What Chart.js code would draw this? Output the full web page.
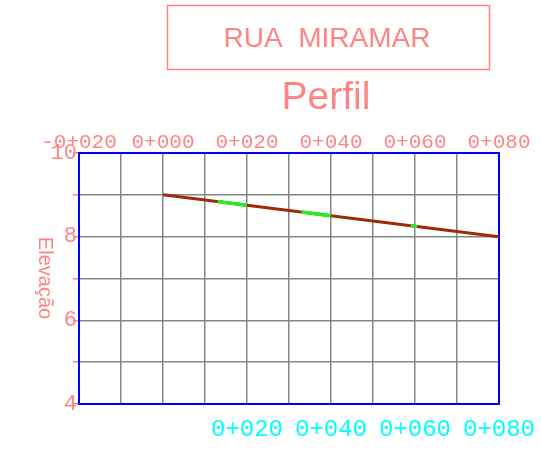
<!DOCTYPE html>
<html>
<head>
<meta charset="utf-8">
<script src="https://cdn.jsdelivr.net/npm/chart.js@4/dist/chart.umd.min.js"></script>
<style>
  body { margin: 0; background: #fff; }
</style>
</head>
<body>
<canvas id="perfil" width="541" height="450"></canvas>
<script>
// Data for the profile
const estacas = [0, 80];          // station (m)
const cotas = [9, 8];             // elevation
// short green pieces along the profile
const verde1X = [13, 20];
const verde1Y = [8.84, 8.75];
const verde2X = [33, 40];
const verde2Y = [8.59, 8.5];
const verde3X = [59, 60.5];
const verde3Y = [8.26, 8.24];
const topoTicks = [-20, 0, 20, 40, 60, 80];
const baseTicks = [20, 40, 60, 80];
const cotaLabels = [4, 6, 8, 10];

const salmao = '#ff8585';
const ciano = '#00ffff';
const cinza = '#858585';
const monoFont = '"Liberation Mono", "DejaVu Sans Mono", monospace';

function estaca(v) {
  return (v < 0 ? '-' : '') + '0+' + String(Math.abs(v)).padStart(3, '0');
}

function pontos(xs, ys) {
  return xs.map((x, i) => ({ x: x, y: ys[i] }));
}

function trechoVerde(xs, ys) {
  return {
    label: 'Trecho',
    data: pontos(xs, ys),
    borderColor: '#22ee22',
    borderWidth: 3.5,
    pointRadius: 0,
    tension: 0
  };
}

// Title box, "Perfil" text, blue frame and the y title
const desenho = {
  id: 'desenho',
  beforeDatasetsDraw(chart) {
    const ctx = chart.ctx;
    const a = chart.chartArea;
    ctx.save();
    ctx.strokeStyle = '#0000ff';
    ctx.lineWidth = 2;
    ctx.strokeRect(a.left, a.top, a.right - a.left, a.bottom - a.top);
    ctx.restore();
  },
  afterDraw(chart) {
    const ctx = chart.ctx;
    ctx.save();
    ctx.strokeStyle = salmao;
    ctx.lineWidth = 1.5;
    ctx.strokeRect(167.5, 5.5, 322, 64);
    ctx.fillStyle = salmao;
    ctx.textAlign = 'center';
    ctx.textBaseline = 'alphabetic';
    ctx.font = '28px "Liberation Sans", Arial, sans-serif';
    ctx.fillText('RUA  MIRAMAR', 327, 47);
    ctx.font = '39px "Liberation Sans", Arial, sans-serif';
    ctx.fillText('Perfil', 326, 109);
    // y title, reading top to bottom
    ctx.translate(45, 278);
    ctx.rotate(Math.PI / 2);
    ctx.font = '20px "Liberation Sans", Arial, sans-serif';
    ctx.textBaseline = 'middle';
    ctx.fillText('Elevação', 0, 0);
    ctx.restore();
  }
};

window.onload = function () {
  const ctx = document.getElementById('perfil').getContext('2d');

  new Chart(ctx, {
    type: 'line',
    data: {
      datasets: [
        trechoVerde(verde1X, verde1Y),
        trechoVerde(verde2X, verde2Y),
        trechoVerde(verde3X, verde3Y),
        {
          label: 'Terreno',
          data: pontos(estacas, cotas),
          borderColor: '#a02a08',
          borderWidth: 3,
          pointRadius: 0,
          tension: 0,
          order: 1
        }
      ]
    },
    options: {
      responsive: false,
      animation: false,
      layout: { padding: { left: 0, right: 42, top: 0, bottom: 0 } },
      plugins: {
        legend: { display: false },
        tooltip: { enabled: false }
      },
      scales: {
        x: {
          type: 'linear',
          position: 'bottom',
          min: -20,
          max: 80,
          afterFit(s) { s.height = 46; s.paddingLeft = 0; s.paddingRight = 0; },
          border: { display: false },
          grid: { color: cinza, lineWidth: 1.5, drawTicks: false },
          ticks: {
            stepSize: 10,
            autoSkip: false,
            maxRotation: 0,
            padding: 11,
            color: ciano,
            font: { family: monoFont, size: 24 },
            callback: v => (baseTicks.includes(v) ? estaca(v) : '')
          }
        },
        xTopo: {
          type: 'linear',
          position: 'top',
          min: -20,
          max: 80,
          afterFit(s) { s.height = 153; s.paddingLeft = 0; s.paddingRight = 0; },
          border: { display: false },
          grid: { display: false, drawTicks: false },
          afterBuildTicks(s) { s.ticks = topoTicks.map(v => ({ value: v })); },
          ticks: {
            autoSkip: false,
            maxRotation: 0,
            padding: -2,
            color: salmao,
            font: { family: monoFont, size: 21 },
            callback: v => estaca(v)
          }
        },
        y: {
          type: 'linear',
          min: 4,
          max: 10,
          afterFit(s) { s.width = 79; s.paddingTop = 0; s.paddingBottom = 0; },
          border: { display: false },
          grid: { color: cinza, lineWidth: 1.5, tickColor: salmao, tickLength: 6 },
          ticks: {
            stepSize: 1,
            padding: -4,
            color: salmao,
            font: { family: monoFont, size: 22 },
            callback: v => (cotaLabels.includes(v) ? String(v) : '')
          }
        }
      }
    },
    plugins: [desenho]
  });
};
</script>
</body>
</html>
